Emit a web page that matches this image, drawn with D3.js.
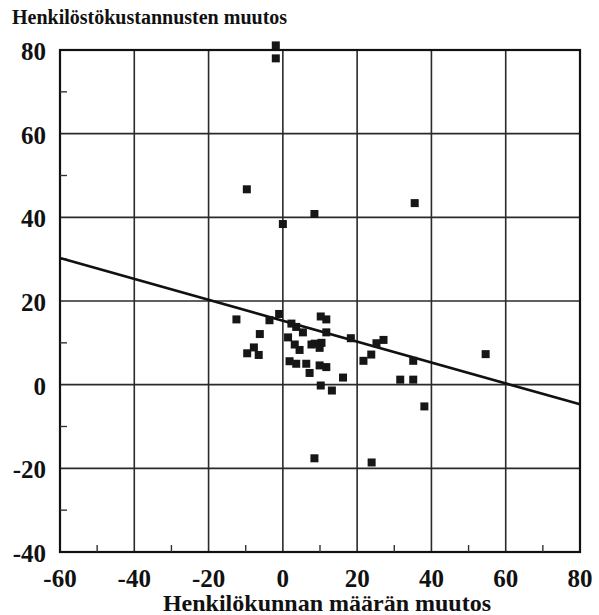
<!DOCTYPE html>
<html>
<head>
<meta charset="utf-8">
<script src="https://d3js.org/d3.v7.min.js"></script>
<style>
  html, body { margin: 0; padding: 0; background: #fff; }
  svg text { font-family: "Liberation Serif", "DejaVu Serif", serif; font-weight: bold; fill: #111; }
</style>
</head>
<body>
<div id="chart"></div>
<script>
// Values.
var xTicks = [-60, -40, -20, 0, 20, 40, 60, 80];
var yTicks = [-40, -20, 0, 20, 40, 60, 80];
var xMinorTicks = [-50, -30, -10, 10, 30, 50, 70];
var yMinorTicks = [-30, -10, 10, 30, 50, 70];

// henkilökunnan määrän muutos (x), henkilöstökustannusten muutos (y)
var staffChange = [
  -1.9, -1.9, -9.7, 0.0, 8.5, 35.5, 54.6, 38.1, 8.5, 23.9,
  -12.5, -3.6, -1.0, -6.2, -7.8, -9.6, -6.5, 2.3, 3.6, 5.4,
  1.4, 3.2, 4.5, 7.7, 8.6, 10.4, 9.9, 10.2, 11.7, 11.7,
  1.8, 3.6, 6.3, 9.9, 11.7, 7.2, 16.2, 10.2, 13.2, 18.3,
  21.7, 23.8, 25.2, 27.1, 31.6, 35.1, 35.1
];
var costChange = [
  81.1, 78.0, 46.7, 38.4, 40.8, 43.4, 7.3, -5.2, -17.6, -18.6,
  15.6, 15.4, 16.9, 12.1, 8.9, 7.5, 7.1, 14.6, 13.8, 12.5,
  11.3, 9.6, 8.3, 9.6, 9.8, 10.0, 8.8, 16.3, 15.6, 12.5,
  5.6, 5.0, 5.0, 4.6, 4.2, 2.8, 1.7, -0.2, -1.4, 11.1,
  5.7, 7.2, 9.9, 10.7, 1.2, 1.2, 5.7
];

// regression line, end points
var fitX = [-60, 80];
var fitY = [30.3, -4.7];

var width = 599, height = 615;
var plot = { left: 60, right: 580, top: 50, bottom: 552 };

var svg = d3.select('#chart').append('svg')
    .attr('width', width)
    .attr('height', height);

var x = d3.scaleLinear().domain([-60, 80]).range([plot.left, plot.right]);
var y = d3.scaleLinear().domain([-40, 80]).range([plot.bottom, plot.top]);

// grid
svg.append('g').selectAll('line').data(xTicks)
  .enter().append('line')
    .attr('x1', function(d) { return x(d); })
    .attr('x2', function(d) { return x(d); })
    .attr('y1', plot.top)
    .attr('y2', plot.bottom)
    .attr('stroke', '#2a2a2a')
    .attr('stroke-width', 1.6);

svg.append('g').selectAll('line').data(yTicks)
  .enter().append('line')
    .attr('x1', plot.left)
    .attr('x2', plot.right)
    .attr('y1', function(d) { return y(d); })
    .attr('y2', function(d) { return y(d); })
    .attr('stroke', '#2a2a2a')
    .attr('stroke-width', 1.6);

// frame
svg.append('rect')
    .attr('x', plot.left)
    .attr('y', plot.top)
    .attr('width', plot.right - plot.left)
    .attr('height', plot.bottom - plot.top)
    .attr('fill', 'none')
    .attr('stroke', '#111')
    .attr('stroke-width', 2.2);

// minor ticks, pointing inward
svg.append('g').selectAll('line').data(xMinorTicks)
  .enter().append('line')
    .attr('x1', function(d) { return x(d); })
    .attr('x2', function(d) { return x(d); })
    .attr('y1', plot.bottom)
    .attr('y2', plot.bottom - 7)
    .attr('stroke', '#333')
    .attr('stroke-width', 1.4);

svg.append('g').selectAll('line').data(yMinorTicks)
  .enter().append('line')
    .attr('x1', plot.left)
    .attr('x2', plot.left + 7)
    .attr('y1', function(d) { return y(d); })
    .attr('y2', function(d) { return y(d); })
    .attr('stroke', '#333')
    .attr('stroke-width', 1.4);

// tick labels
svg.append('g').selectAll('text').data(yTicks)
  .enter().append('text')
    .attr('x', 46)
    .attr('y', function(d) { return y(d) + 10; })
    .attr('text-anchor', 'end')
    .attr('font-size', 25)
    .text(function(d) { return d; });

svg.append('g').selectAll('text').data(xTicks)
  .enter().append('text')
    .attr('x', function(d) { return x(d); })
    .attr('y', 587)
    .attr('text-anchor', 'middle')
    .attr('font-size', 25)
    .text(function(d) { return d; });

// regression line
var fitPts = fitX.map(function(v, i) { return [v, fitY[i]]; });
svg.append('path')
    .datum(fitPts)
    .attr('d', d3.line()
        .x(function(d) { return x(d[0]); })
        .y(function(d) { return y(d[1]); }))
    .attr('fill', 'none')
    .attr('stroke', '#111')
    .attr('stroke-width', 2.6);

// observations
var size = 8;
svg.append('g').selectAll('rect').data(d3.range(staffChange.length))
  .enter().append('rect')
    .attr('x', function(i) { return x(staffChange[i]) - size / 2; })
    .attr('y', function(i) { return y(costChange[i]) - size / 2; })
    .attr('width', size)
    .attr('height', size)
    .attr('fill', '#161616');

// titles
svg.append('text')
    .attr('x', 12)
    .attr('y', 24)
    .attr('font-size', 20)
    .text('Henkilöstökustannusten muutos');

svg.append('text')
    .attr('x', 327)
    .attr('y', 611)
    .attr('text-anchor', 'middle')
    .attr('font-size', 24)
    .text('Henkilökunnan määrän muutos');
</script>
</body>
</html>
